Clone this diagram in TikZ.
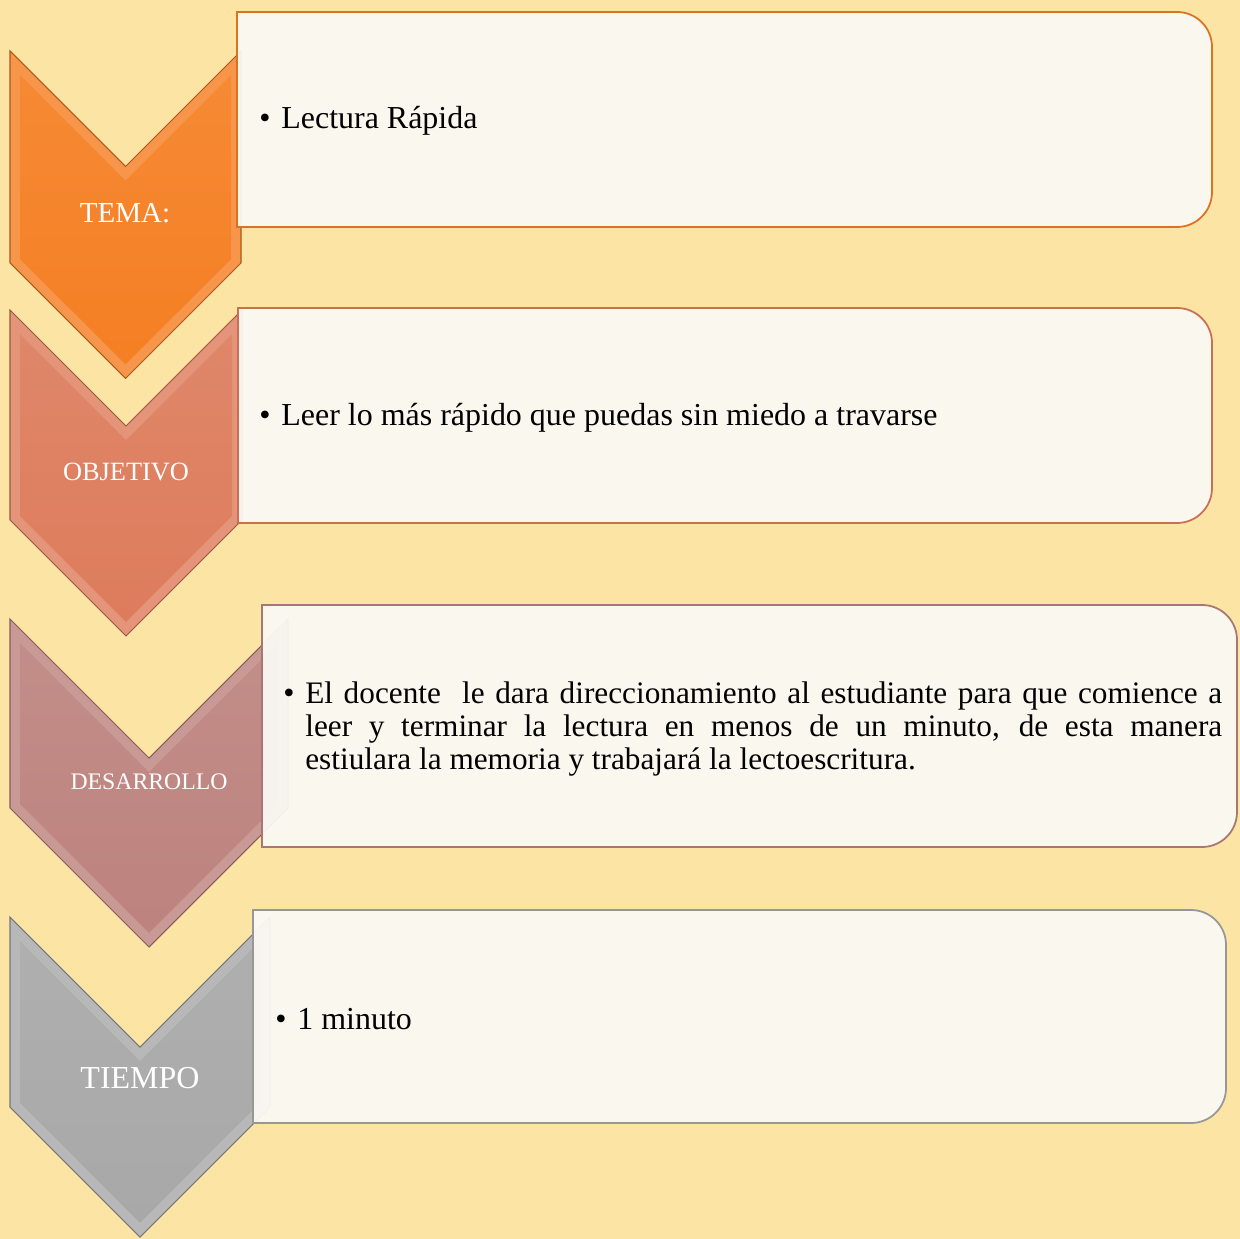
\documentclass[tikz,border=0pt]{standalone}
\usepackage{fontspec}
\setmainfont{Liberation Serif}
\usepackage{tikz}
\usetikzlibrary{calc}
\definecolor{fondo}{RGB}{252,228,165}
\definecolor{papel}{RGB}{250,249,244}
\definecolor{naranja}{RGB}{245,127,35}
\definecolor{salmon}{RGB}{221,124,92}
\definecolor{rosa}{RGB}{189,131,126}
\definecolor{gris}{RGB}{168,168,168}

\begin{document}
\begin{tikzpicture}[x=0.02cm, y=-0.02cm,
  chv/.style={draw=#1!70!black, line width=0.6pt, fill=#1!82!white},
  bisel/.style={top color=#1!92!white, bottom color=#1},
  caja/.style={draw=#1, line width=1pt, fill=papel, fill opacity=0.94},
  lbl/.style={text=white, font=\fontsize{#1}{#1}\selectfont},
  txt/.style={anchor=west, inner sep=0pt, font=\fontsize{18.2}{21}\selectfont}]
  % Fondo
  \fill[fondo] (0,0) rectangle (1240,1239);
  \useasboundingbox (0,0) rectangle (1240,1239);
  % Flechas (chevrons)
  \draw[chv=naranja] (10,51) -- (125.5,166.5) -- (241,51) -- (241,263) -- (125.5,378.5) -- (10,263) -- cycle;
  \shade[bisel=naranja] (20,75.1) -- (125.5,180.6) -- (231,75.1) -- (231,259.1) -- (125.5,364.4) -- (20,259.1) -- cycle;
  \draw[chv=salmon] (10,310) -- (126,426) -- (242,310) -- (242,520) -- (126,636) -- (10,520) -- cycle;
  \shade[bisel=salmon] (20,334.1) -- (126,440.1) -- (232,334.1) -- (232,515.9) -- (126,621.9) -- (20,515.9) -- cycle;
  \draw[chv=rosa] (10,619) -- (149,758) -- (288,619) -- (288,808) -- (149,947) -- (10,808) -- cycle;
  \shade[bisel=rosa] (20,643.1) -- (149,772.1) -- (278,643.1) -- (278,803.9) -- (149,932.9) -- (20,803.9) -- cycle;
  \draw[chv=gris] (10,917) -- (140,1047) -- (270,917) -- (270,1107) -- (140,1237) -- (10,1107) -- cycle;
  \shade[bisel=gris] (20,941.1) -- (140,1061.1) -- (260,941.1) -- (260,1102.9) -- (140,1222.9) -- (20,1102.9) -- cycle;
  % Cajas
  \draw[caja=naranja!90!black] (237,12) [rounded corners=0.7cm] -- (1212,12) -- (1212,227) [sharp corners] -- (237,227) -- cycle;
  \draw[caja=salmon!90!black] (238,308) [rounded corners=0.7cm] -- (1212,308) -- (1212,523) [sharp corners] -- (238,523) -- cycle;
  \draw[caja=rosa!90!black] (262,605) [rounded corners=0.7cm] -- (1237,605) -- (1237,847) [sharp corners] -- (262,847) -- cycle;
  \draw[caja=gris!90!black] (253,910) [rounded corners=0.7cm] -- (1226,910) -- (1226,1123) [sharp corners] -- (253,1123) -- cycle;
  % Etiquetas
  \node[lbl=16.5] (tema) at (125,213) {TEMA:};
  \node[lbl=15] (obj) at (126,472) {OBJETIVO};
  \node[lbl=13.5] (des) at (149,782) {DESARROLLO};
  \node[lbl=18.2] (tie) at (140,1078) {TIEMPO};
  % Textos
  \node[txt] (tema-t) at (259,121) {\makebox[0.44cm][l]{\textbullet}Lectura Rápida};
  \node[txt] (obj-t) at (259,418) {\makebox[0.44cm][l]{\textbullet}Leer lo más rápido que puedas sin miedo a travarse};
  \node[txt] (des-b) at (283,696) {\textbullet};
  \node[txt, anchor=north west, text width=18.34cm, align=justify, font=\fontsize{17.8}{18.8}\selectfont] (des-t) at (305,681)
    {El docente\ \ le dara direccionamiento al estudiante para que comience a\linebreak leer y terminar la lectura en menos de un minuto, de esta manera\linebreak estiulara la memoria y trabajará la lectoescritura.};
  \node[txt] (tie-t) at (275,1019) {\makebox[0.44cm][l]{\textbullet}1 minuto};
\end{tikzpicture}
\end{document}
